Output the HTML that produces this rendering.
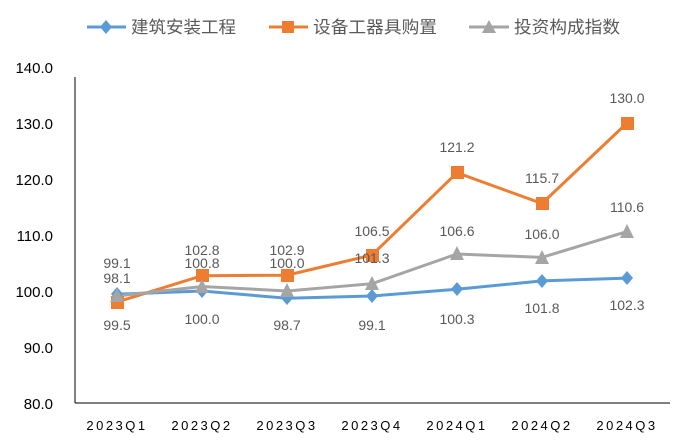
<!DOCTYPE html>
<html><head><meta charset="utf-8"><style>body{margin:0;background:#fff}svg{display:block}</style></head><body>
<svg width="694" height="444" viewBox="0 0 694 444" xmlns="http://www.w3.org/2000/svg" font-family="Liberation Sans, Noto Sans CJK SC, sans-serif">
<rect width="694" height="444" fill="#fff"/>
<!-- legend -->
<g font-size="17" fill="#595959">
<line x1="87" y1="27" x2="126" y2="27" stroke="#5B9BD5" stroke-width="3"/><path d="M106 20 L112 27 L106 34 L100 27Z" fill="#5B9BD5"/>
<text x="131" y="33" textLength="105" lengthAdjust="spacingAndGlyphs">建筑安装工程</text>
<line x1="269" y1="27" x2="308" y2="27" stroke="#ED7D31" stroke-width="3"/><rect x="282" y="21" width="12" height="12" fill="#ED7D31"/>
<text x="313" y="33" textLength="124" lengthAdjust="spacingAndGlyphs">设备工器具购置</text>
<line x1="469" y1="27" x2="509" y2="27" stroke="#A5A5A5" stroke-width="3"/><path d="M489 20 L496 33 L482 33Z" fill="#A5A5A5"/>
<text x="514" y="33" textLength="106" lengthAdjust="spacingAndGlyphs">投资构成指数</text>
</g>
<!-- axes -->
<line x1="75" y1="77" x2="75" y2="403" stroke="#000" stroke-width="1"/>
<line x1="75" y1="403" x2="670" y2="403" stroke="#000" stroke-width="1"/>
<g font-size="15" fill="#000" text-anchor="end">
<text x="53" y="73">140.0</text><text x="53" y="129">130.0</text><text x="53" y="185">120.0</text><text x="53" y="241">110.0</text><text x="53" y="297">100.0</text><text x="53" y="353">90.0</text><text x="53" y="409">80.0</text>
</g>
<g font-size="13" fill="#000" text-anchor="middle" letter-spacing="2.5">
<text x="117" y="430">2023Q1</text><text x="202" y="430">2023Q2</text><text x="287" y="430">2023Q3</text><text x="372" y="430">2023Q4</text><text x="457" y="430">2024Q1</text><text x="542" y="430">2024Q2</text><text x="627" y="430">2024Q3</text>
</g>
<!-- series -->
<polyline fill="none" stroke="#5B9BD5" stroke-width="3" points="117,294.2 202,291 287,298.3 372,296 457,289.3 542,280.9 627,278.1"/>
<polyline fill="none" stroke="#ED7D31" stroke-width="3" points="117,302 202,275.7 287,275.2 372,255 457,172.7 542,203.5 627,123"/>
<polyline fill="none" stroke="#A5A5A5" stroke-width="3" points="117,296 202,286.5 287,291 372,283.7 457,254 542,257.4 627,231.6"/>
<g fill="#5B9BD5">
<path d="M117 287 L123 294 L117 301 L111 294Z"/><path d="M202 284 L208 291 L202 298 L196 291Z"/><path d="M287 291 L293 298 L287 305 L281 298Z"/><path d="M372 289 L378 296 L372 303 L366 296Z"/><path d="M457 282 L463 289 L457 296 L451 289Z"/><path d="M542 274 L548 281 L542 288 L536 281Z"/><path d="M627 271 L633 278 L627 285 L621 278Z"/>
</g>
<g fill="#ED7D31">
<rect x="111" y="296" width="13" height="13"/><rect x="196" y="269" width="13" height="13"/><rect x="281" y="269" width="13" height="13"/><rect x="366" y="249" width="13" height="13"/><rect x="451" y="166" width="13" height="13"/><rect x="536" y="197" width="13" height="13"/><rect x="621" y="117" width="13" height="13"/>
</g>
<g fill="#A5A5A5">
<path d="M117 288 L124 302 L110 302Z"/><path d="M202 279 L209 293 L195 293Z"/><path d="M287 283 L294 297 L280 297Z"/><path d="M372 276 L379 290 L365 290Z"/><path d="M457 246 L464 260 L450 260Z"/><path d="M542 250 L549 264 L535 264Z"/><path d="M627 224 L634 238 L620 238Z"/>
</g>
<!-- labels -->
<g font-size="14" fill="#595959" text-anchor="middle">
<text x="117" y="330">99.5</text><text x="202" y="324">100.0</text><text x="287" y="330">98.7</text><text x="372" y="330">99.1</text><text x="457" y="324">100.3</text><text x="542" y="313">101.8</text><text x="627" y="310">102.3</text>
<text x="117" y="283">98.1</text><text x="202" y="255">102.8</text><text x="287" y="255">102.9</text><text x="372" y="236">106.5</text><text x="457" y="152">121.2</text><text x="542" y="183">115.7</text><text x="627" y="103">130.0</text>
<text x="117" y="268">99.1</text><text x="202" y="268">100.8</text><text x="287" y="268">100.0</text><text x="372" y="263">101.3</text><text x="457" y="236">106.6</text><text x="542" y="239">106.0</text><text x="627" y="212">110.6</text>
</g>
</svg>
</body></html>
